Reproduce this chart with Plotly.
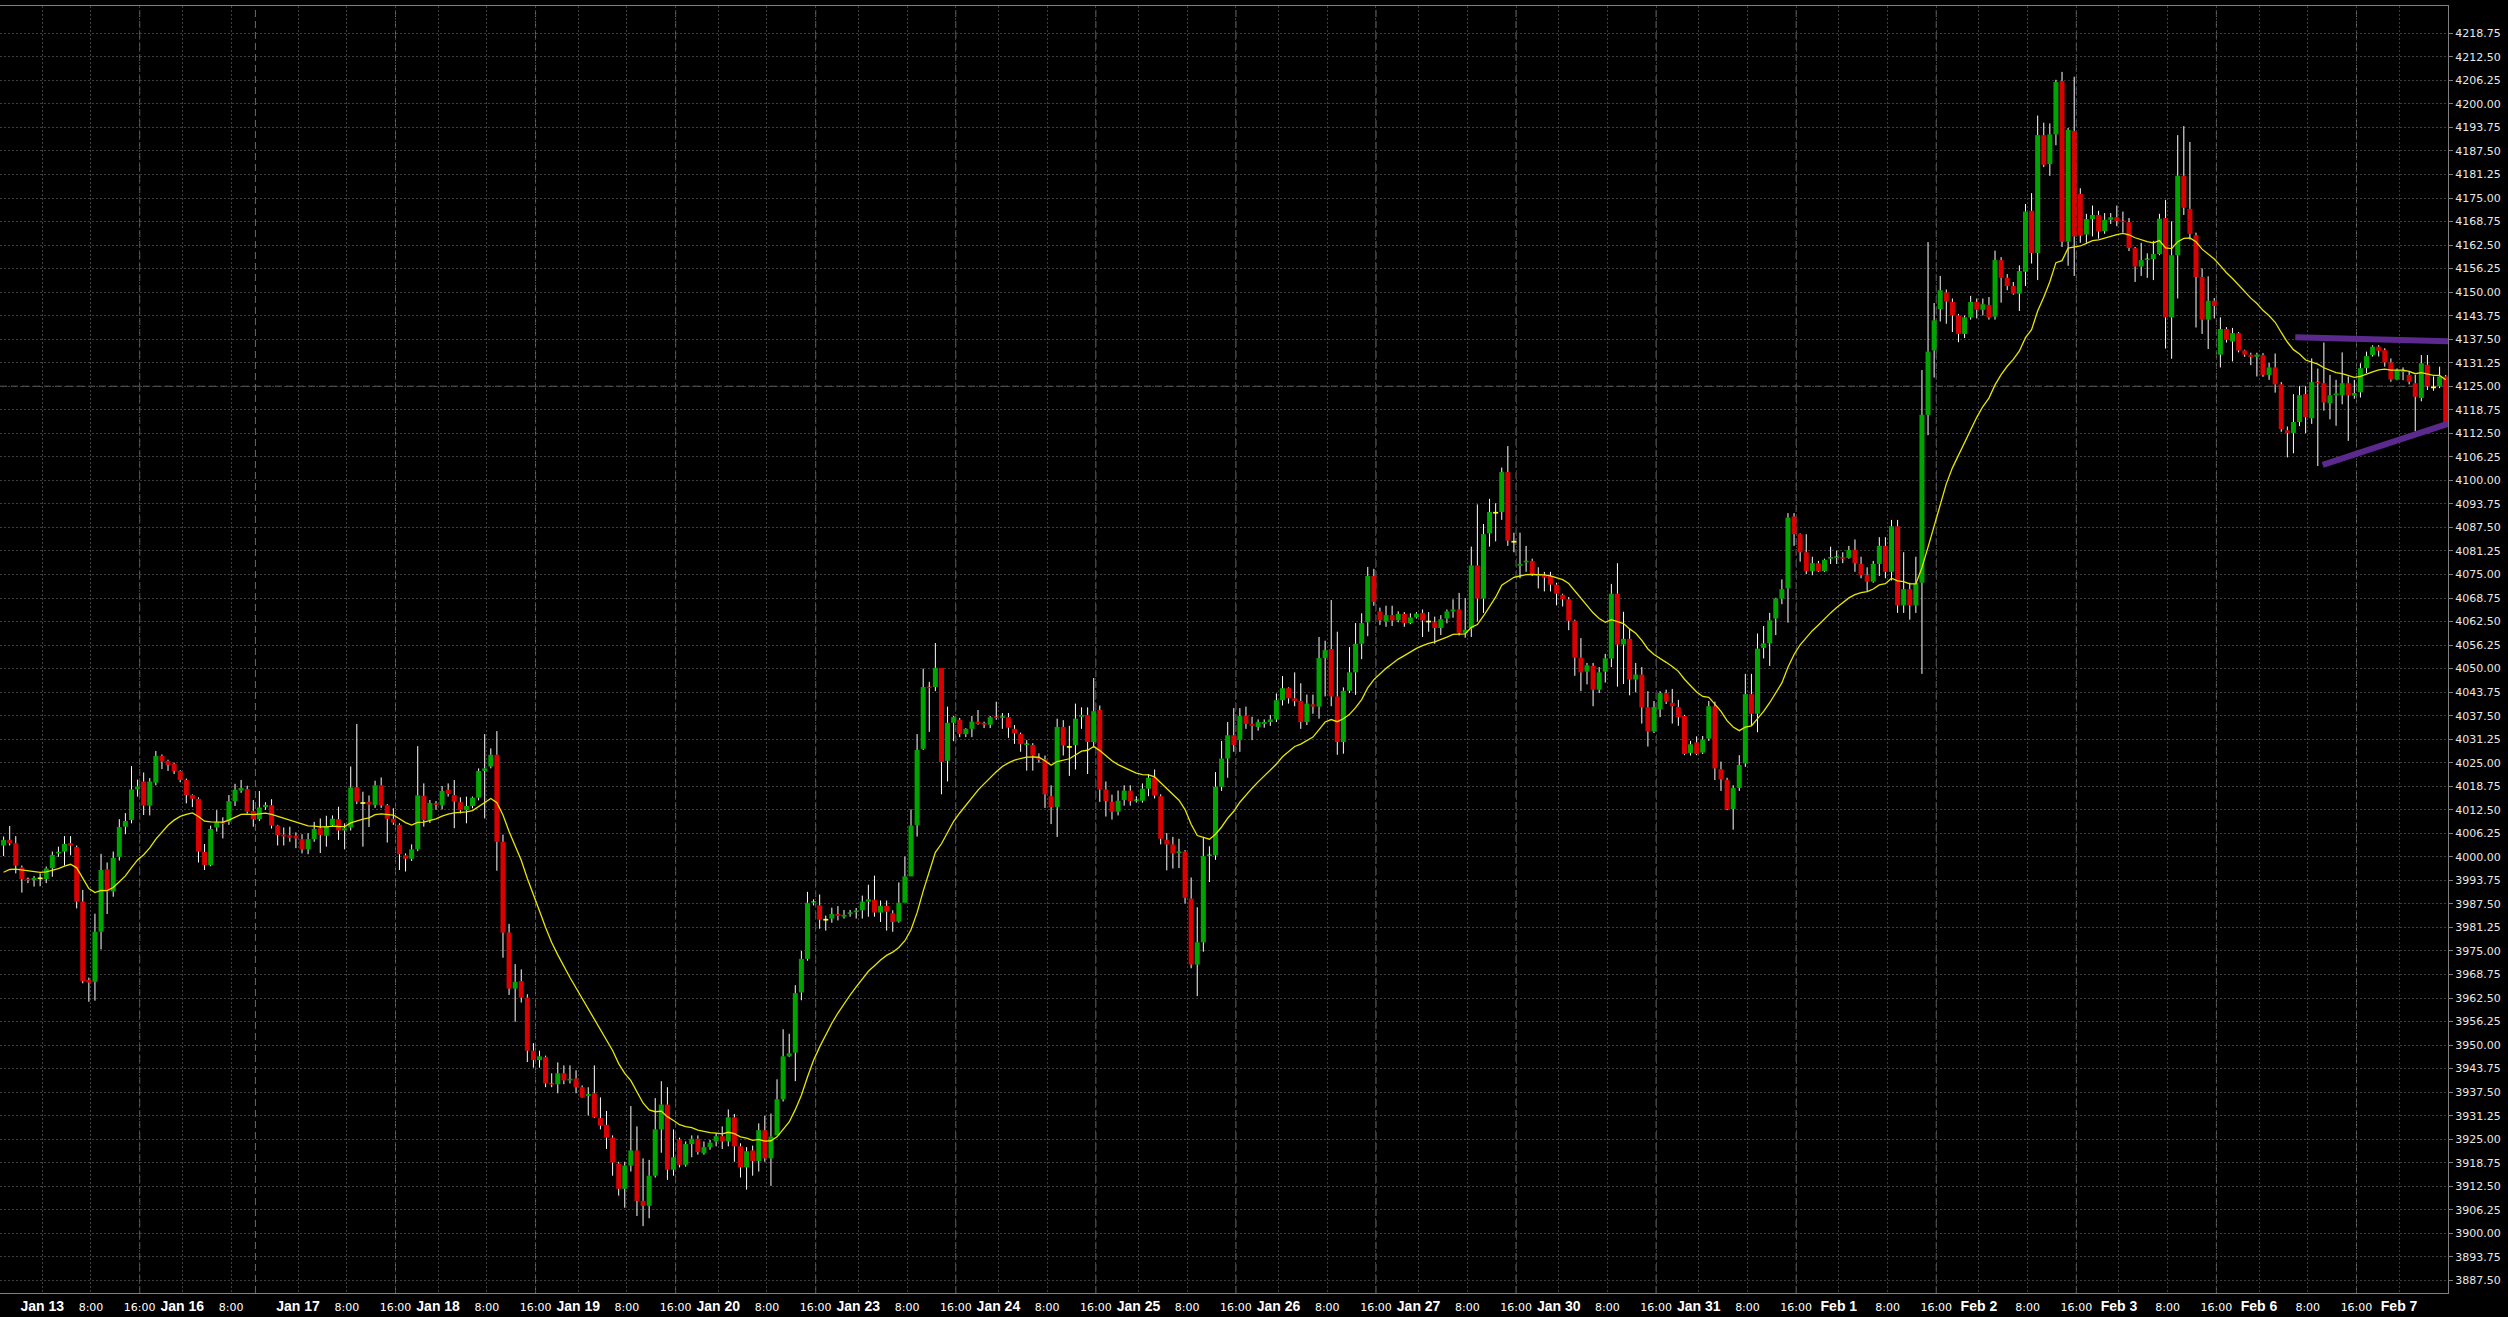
import numpy as np
import plotly.graph_objects as go

# ---------------- data (hourly bars) ----------------
opens = [
4003.0, 4004.5, 4003.6, 3997.2, 3994.1, 3993.8, 3994.3, 3994.1, 3997.0, 4000.9,
4001.4, 4003.6, 4002.6, 3988.1, 3967.3, 3966.8, 3980.1, 3996.7, 3990.8, 4000.0,
4008.0, 4009.8, 4017.9, 4020.0, 4013.6, 4019.7, 4026.8, 4025.5, 4024.7, 4022.8,
4020.4, 4016.4, 4015.4, 4001.3, 3997.8, 4007.8, 4009.0, 4009.3, 4014.8, 4017.6,
4018.0, 4012.2, 4010.0, 4013.2, 4013.7, 4008.3, 4005.9, 4005.7, 4005.6, 4004.7,
4002.0, 4004.7, 4007.6, 4005.6, 4008.4, 4010.0, 4007.0, 4007.8, 4018.5, 4014.3,
4014.6, 4013.8, 4019.0, 4013.7, 4010.1, 4008.5, 4000.4, 3999.5, 4002.0, 4016.2,
4009.8, 4014.2, 4013.7, 4017.8, 4016.4, 4014.5, 4012.4, 4013.5, 4015.7, 4022.8,
4024.0, 4027.1, 4004.0, 3979.9, 3965.0, 3967.0, 3962.6, 3948.5, 3946.0, 3946.8,
3939.8, 3939.6, 3942.5, 3940.6, 3941.1, 3938.8, 3936.5, 3937.2, 3930.6, 3928.8,
3925.4, 3918.5, 3911.8, 3918.0, 3922.0, 3908.6, 3907.3, 3915.3, 3927.6, 3934.2,
3916.9, 3924.9, 3918.2, 3923.7, 3925.1, 3921.3, 3922.9, 3924.4, 3925.8, 3924.4,
3930.8, 3923.1, 3917.5, 3922.0, 3919.2, 3927.4, 3919.9, 3926.0, 3935.6, 3947.0,
3948.0, 3964.0, 3972.9, 3987.8, 3987.1, 3983.3, 3983.6, 3984.8, 3984.1, 3984.8,
3985.3, 3985.8, 3988.1, 3988.6, 3985.2, 3987.0, 3985.0, 3982.8, 3987.8, 3994.8,
4008.4, 4028.7, 4045.1, 4045.1, 4050.2, 4025.5, 4035.6, 4036.4, 4032.6, 4034.0,
4035.9, 4035.5, 4035.1, 4037.2, 4036.9, 4037.1, 4034.0, 4032.6, 4029.7, 4029.7,
4026.2, 4025.9, 4016.1, 4013.2, 4034.5, 4029.2, 4029.7, 4037.2, 4037.7, 4030.5,
4039.0, 4017.9, 4014.6, 4012.0, 4015.1, 4017.6, 4014.8, 4014.9, 4018.1, 4021.0,
4016.1, 4004.5, 4003.3, 4001.0, 4001.4, 3988.9, 3971.4, 3977.3, 4000.2, 4000.4,
4018.6, 4026.1, 4032.3, 4031.0, 4037.5, 4035.3, 4034.5, 4035.3, 4035.8, 4036.5,
4041.6, 4044.8, 4042.1, 4041.4, 4035.8, 4040.5, 4039.9, 4052.8, 4055.2, 4042.6,
4030.5, 4044.1, 4049.0, 4056.6, 4062.3, 4074.6, 4065.2, 4062.5, 4064.2, 4062.8,
4064.5, 4062.1, 4063.6, 4064.8, 4062.5, 4062.3, 4060.8, 4063.3, 4065.2, 4065.7,
4059.5, 4060.7, 4077.4, 4068.6, 4085.9, 4091.4, 4091.6, 4102.2, 4083.7, 4077.3,
4078.2, 4078.6, 4075.0, 4074.8, 4074.6, 4072.3, 4069.6, 4068.4, 4062.7, 4052.9,
4049.2, 4050.7, 4044.4, 4049.2, 4052.7, 4069.9, 4056.4, 4057.9, 4047.1, 4048.4,
4039.7, 4033.3, 4039.2, 4043.5, 4040.9, 4039.8, 4037.4, 4027.6, 4030.4, 4027.7,
4031.4, 4040.0, 4023.3, 4020.4, 4012.7, 4018.3, 4024.8, 4043.2, 4038.0, 4055.5,
4056.7, 4063.3, 4068.6, 4071.3, 4090.4, 4085.7, 4080.9, 4075.9, 4078.0, 4075.9,
4079.2, 4079.4, 4079.6, 4079.4, 4081.5, 4077.8, 4074.8, 4073.1, 4077.8, 4082.6,
4075.7, 4087.8, 4066.8, 4071.1, 4066.8, 4072.8, 4117.4, 4134.5, 4145.5, 4149.9,
4147.4, 4143.8, 4138.9, 4143.3, 4147.4, 4145.3, 4146.6, 4143.5, 4158.5, 4153.8,
4151.6, 4149.6, 4155.4, 4171.6, 4160.4, 4191.7, 4184.0, 4191.9, 4206.1, 4163.4,
4192.8, 4176.1, 4165.3, 4169.4, 4170.5, 4166.2, 4169.2, 4169.9, 4168.9, 4168.6,
4161.7, 4156.8, 4158.5, 4158.8, 4160.1, 4169.7, 4143.3, 4159.8, 4180.9, 4172.1,
4165.1, 4154.0, 4142.7, 4147.7, 4133.4, 4140.2, 4136.9, 4139.1, 4134.5, 4133.4,
4132.8, 4133.3, 4128.0, 4130.0, 4125.5, 4113.3, 4112.6, 4115.5, 4122.9, 4116.5,
4126.1, 4125.8, 4120.5, 4122.6, 4122.6, 4125.8, 4122.5, 4123.4, 4129.8, 4133.3,
4135.5, 4134.6, 4131.3, 4126.8, 4128.8, 4128.0, 4125.8, 4121.9, 4130.7, 4124.7,
4125.0, 4127.6,
]

highs = [
4005.4, 4008.2, 4005.5, 3997.7, 3994.5, 3994.9, 3995.6, 3997.4, 4001.4, 4002.7,
4005.5, 4005.5, 4003.0, 3991.2, 3967.9, 3984.9, 4000.8, 3998.5, 4001.4, 4010.0,
4011.6, 4024.1, 4020.5, 4022.4, 4020.9, 4028.1, 4027.2, 4025.8, 4025.0, 4023.0,
4020.8, 4016.6, 4015.8, 4003.4, 4008.3, 4012.4, 4010.5, 4016.4, 4019.4, 4020.4,
4018.9, 4015.1, 4017.5, 4014.5, 4015.3, 4008.5, 4007.8, 4008.0, 4006.5, 4006.0,
4006.3, 4009.3, 4010.2, 4010.9, 4011.0, 4013.3, 4008.9, 4024.0, 4035.3, 4017.3,
4016.3, 4020.2, 4021.1, 4014.0, 4012.9, 4008.9, 4000.9, 4003.3, 4029.4, 4019.5,
4015.1, 4014.8, 4018.8, 4019.5, 4020.4, 4015.8, 4016.0, 4016.0, 4023.5, 4032.6,
4028.8, 4033.4, 4005.9, 3982.2, 3971.5, 3970.1, 3963.5, 3950.5, 3948.5, 3947.2,
3942.5, 3945.4, 3944.6, 3944.6, 3943.3, 3939.3, 3938.8, 3944.6, 3936.1, 3932.5,
3926.0, 3919.0, 3919.0, 3933.8, 3928.4, 3919.9, 3919.5, 3935.9, 3940.4, 3938.8,
3927.6, 3925.4, 3924.4, 3926.0, 3926.0, 3924.4, 3924.8, 3926.6, 3928.4, 3932.9,
3931.7, 3923.9, 3922.9, 3923.3, 3929.2, 3931.2, 3931.8, 3940.9, 3954.2, 3953.0,
3965.9, 3975.0, 3990.7, 3988.7, 3990.0, 3984.4, 3986.5, 3986.9, 3985.9, 3985.9,
3986.4, 3989.7, 3992.6, 3995.0, 3988.4, 3988.4, 3985.8, 3993.2, 4000.1, 4012.6,
4032.6, 4050.0, 4046.5, 4056.8, 4050.2, 4039.9, 4037.4, 4036.9, 4034.2, 4037.4,
4039.0, 4035.9, 4037.4, 4041.2, 4038.2, 4038.2, 4035.0, 4033.0, 4031.0, 4030.2,
4027.5, 4026.9, 4019.0, 4036.7, 4036.3, 4034.8, 4040.7, 4039.7, 4039.7, 4047.5,
4040.2, 4020.0, 4016.5, 4017.6, 4019.0, 4019.0, 4016.1, 4019.5, 4022.0, 4023.2,
4016.6, 4006.3, 4005.3, 4004.8, 4001.8, 3994.5, 3986.6, 4005.3, 4002.8, 4022.5,
4030.8, 4035.8, 4039.5, 4039.5, 4039.9, 4037.2, 4036.5, 4036.5, 4037.7, 4043.4,
4048.0, 4045.0, 4049.0, 4046.1, 4043.1, 4043.1, 4058.4, 4057.4, 4068.2, 4059.8,
4045.0, 4055.7, 4062.1, 4064.7, 4077.0, 4076.5, 4066.2, 4066.7, 4066.7, 4065.2,
4065.0, 4064.7, 4065.0, 4065.7, 4065.0, 4063.8, 4064.2, 4065.7, 4068.4, 4070.1,
4068.7, 4082.4, 4093.6, 4088.4, 4095.1, 4093.9, 4103.4, 4109.1, 4086.1, 4086.1,
4082.6, 4079.2, 4076.9, 4075.7, 4075.7, 4072.8, 4069.9, 4069.0, 4063.0, 4058.1,
4051.5, 4051.5, 4050.4, 4053.9, 4072.5, 4078.0, 4065.1, 4060.5, 4051.5, 4050.4,
4044.0, 4041.4, 4044.0, 4044.4, 4044.6, 4041.7, 4037.7, 4030.8, 4032.0, 4032.1,
4041.4, 4041.2, 4025.3, 4021.0, 4019.0, 4027.0, 4048.6, 4048.6, 4059.3, 4061.3,
4064.8, 4068.8, 4073.7, 4091.3, 4091.3, 4085.9, 4085.7, 4079.7, 4078.6, 4079.2,
4082.4, 4081.3, 4080.9, 4082.6, 4084.3, 4079.7, 4076.9, 4078.6, 4084.9, 4084.9,
4089.5, 4089.5, 4080.9, 4072.8, 4079.7, 4129.3, 4163.3, 4147.1, 4154.3, 4150.7,
4148.3, 4144.2, 4143.8, 4149.0, 4148.3, 4148.3, 4148.7, 4161.0, 4159.3, 4154.8,
4152.7, 4157.1, 4173.4, 4176.3, 4196.9, 4195.0, 4194.8, 4206.4, 4208.5, 4193.6,
4207.2, 4177.6, 4170.8, 4173.0, 4171.6, 4171.0, 4171.0, 4173.0, 4171.4, 4169.7,
4162.0, 4163.1, 4160.3, 4163.6, 4170.8, 4174.5, 4168.8, 4191.7, 4194.1, 4189.9,
4165.8, 4156.3, 4154.2, 4148.4, 4143.3, 4140.7, 4140.5, 4139.4, 4134.7, 4133.9,
4133.9, 4133.8, 4131.2, 4133.7, 4126.1, 4114.3, 4122.9, 4125.0, 4125.0, 4132.4,
4129.7, 4136.6, 4128.0, 4126.7, 4134.0, 4127.6, 4126.7, 4131.1, 4134.2, 4135.9,
4135.9, 4135.1, 4132.4, 4129.7, 4130.0, 4129.0, 4128.0, 4133.3, 4133.3, 4127.6,
4130.2, 4128.0,
]

lows = [
4000.2, 4003.0, 3995.6, 3990.5, 3993.0, 3992.1, 3992.2, 3993.0, 3994.7, 4000.0,
3997.7, 4000.4, 3986.3, 3966.4, 3961.5, 3961.8, 3975.4, 3984.8, 3989.4, 3999.0,
4006.0, 4008.9, 4016.0, 4011.1, 4011.0, 4019.0, 4023.3, 4022.8, 4022.0, 4019.8,
4014.2, 4013.2, 3998.5, 3996.5, 3997.5, 4006.7, 4004.9, 4008.5, 4013.5, 4017.0,
4011.5, 4008.0, 4009.5, 4012.5, 4007.5, 4003.0, 4003.0, 4004.0, 4002.3, 4000.9,
4000.7, 4004.0, 4001.0, 4002.7, 4008.0, 4004.5, 4002.0, 4007.0, 4014.0, 4002.7,
4007.9, 4013.0, 4013.0, 4003.8, 4008.5, 3996.5, 3996.1, 3998.9, 4001.5, 4008.0,
4009.0, 4012.5, 4012.6, 4016.0, 4007.6, 4011.5, 4008.9, 4012.9, 4015.0, 4010.2,
4023.5, 3996.3, 3973.2, 3963.3, 3956.2, 3961.3, 3945.5, 3944.0, 3944.0, 3938.8,
3938.8, 3937.2, 3939.6, 3939.8, 3937.2, 3936.0, 3931.3, 3930.6, 3927.6, 3922.4,
3915.3, 3910.0, 3906.8, 3916.4, 3904.6, 3901.9, 3904.0, 3914.8, 3921.4, 3914.2,
3915.3, 3917.5, 3917.7, 3920.2, 3920.9, 3920.9, 3922.2, 3923.1, 3922.4, 3923.1,
3919.0, 3914.8, 3911.6, 3915.3, 3916.4, 3919.0, 3912.6, 3926.0, 3935.0, 3946.8,
3940.4, 3961.9, 3972.4, 3987.1, 3980.9, 3980.4, 3982.5, 3983.1, 3983.6, 3984.1,
3983.6, 3983.6, 3984.1, 3984.1, 3982.7, 3980.4, 3980.1, 3982.5, 3987.8, 3994.8,
4005.4, 4028.4, 4033.2, 4044.0, 4016.6, 4020.0, 4030.7, 4031.8, 4031.8, 4031.8,
4035.1, 4034.2, 4034.2, 4036.4, 4034.0, 4031.6, 4030.0, 4027.9, 4022.9, 4022.9,
4025.0, 4013.0, 4008.7, 4005.3, 4026.9, 4021.5, 4023.2, 4034.0, 4022.0, 4029.0,
4014.6, 4010.7, 4009.9, 4011.0, 4013.6, 4013.6, 4014.4, 4014.4, 4016.1, 4015.5,
4003.3, 3996.4, 3996.9, 3997.0, 3987.6, 3970.4, 3963.0, 3974.8, 3993.3, 3999.2,
4017.5, 4021.0, 4027.9, 4027.9, 4034.0, 4031.0, 4033.5, 4034.3, 4034.8, 4035.8,
4040.2, 4040.7, 4040.0, 4034.0, 4035.0, 4038.0, 4036.7, 4042.6, 4040.0, 4027.1,
4027.4, 4043.5, 4043.0, 4052.5, 4058.6, 4066.7, 4061.6, 4061.1, 4061.3, 4062.3,
4061.1, 4061.8, 4063.3, 4058.4, 4059.8, 4056.6, 4058.9, 4062.0, 4063.5, 4058.8,
4058.2, 4058.4, 4062.5, 4064.8, 4082.4, 4083.8, 4089.5, 4082.6, 4080.9, 4074.0,
4075.7, 4074.6, 4071.3, 4070.5, 4070.5, 4066.8, 4066.5, 4060.2, 4048.1, 4044.0,
4045.8, 4040.0, 4043.5, 4046.3, 4050.4, 4045.2, 4045.9, 4042.9, 4043.7, 4035.4,
4029.3, 4032.9, 4037.1, 4040.6, 4035.4, 4034.8, 4027.0, 4026.9, 4027.0, 4027.3,
4030.8, 4020.4, 4017.5, 4012.4, 4007.2, 4017.5, 4023.9, 4034.8, 4033.1, 4052.7,
4050.7, 4058.9, 4067.1, 4062.2, 4082.6, 4078.4, 4075.1, 4074.8, 4075.7, 4075.7,
4077.8, 4077.8, 4078.0, 4079.2, 4075.7, 4074.0, 4070.5, 4072.8, 4074.6, 4074.0,
4073.4, 4064.8, 4064.8, 4063.0, 4064.8, 4048.6, 4112.0, 4127.3, 4142.2, 4141.6,
4139.4, 4136.7, 4137.8, 4142.7, 4143.0, 4143.8, 4142.7, 4142.7, 4147.2, 4150.5,
4149.3, 4145.0, 4151.6, 4157.6, 4153.2, 4183.2, 4180.9, 4189.0, 4162.0, 4157.0,
4154.3, 4163.1, 4163.1, 4164.8, 4164.2, 4165.5, 4168.1, 4167.5, 4165.8, 4160.9,
4152.7, 4154.3, 4153.8, 4153.2, 4159.8, 4135.0, 4132.3, 4148.3, 4170.5, 4164.0,
4140.6, 4138.9, 4134.9, 4143.0, 4130.0, 4136.6, 4131.6, 4134.0, 4132.8, 4130.6,
4127.6, 4127.5, 4126.7, 4123.3, 4112.9, 4106.1, 4107.2, 4114.4, 4112.5, 4115.0,
4103.8, 4118.5, 4116.2, 4114.5, 4120.2, 4110.5, 4121.7, 4122.0, 4128.5, 4132.9,
4132.9, 4130.2, 4126.2, 4126.6, 4126.6, 4125.5, 4113.0, 4121.0, 4124.0, 4123.8,
4124.5, 4115.3,
]

closes = [
4004.5, 4003.6, 3997.7, 3994.1, 3993.8, 3994.4, 3994.3, 3996.9, 4000.5, 4001.3,
4003.4, 4003.0, 3988.1, 3967.0, 3966.6, 3980.1, 3996.5, 3990.8, 3999.7, 4007.9,
4009.5, 4017.9, 4018.7, 4013.6, 4020.0, 4026.8, 4025.3, 4024.4, 4022.8, 4020.4,
4016.4, 4015.4, 4001.4, 3997.8, 4007.4, 4009.2, 4008.8, 4014.8, 4017.8, 4018.3,
4012.0, 4010.0, 4013.1, 4013.8, 4008.3, 4005.8, 4005.4, 4005.1, 4004.9, 4002.0,
4004.7, 4007.4, 4005.8, 4008.2, 4010.1, 4007.0, 4007.6, 4018.4, 4014.7, 4014.3,
4013.9, 4019.0, 4013.7, 4010.1, 4009.1, 4000.7, 3999.5, 4002.0, 4016.3, 4009.8,
4014.3, 4013.8, 4017.5, 4016.7, 4014.7, 4012.4, 4013.5, 4015.7, 4022.8, 4023.5,
4027.1, 4004.0, 3979.9, 3965.0, 3966.8, 3962.6, 3948.5, 3946.0, 3947.0, 3939.8,
3939.5, 3942.5, 3940.6, 3941.0, 3938.8, 3936.1, 3937.0, 3930.8, 3928.6, 3925.4,
3918.8, 3911.8, 3918.0, 3922.0, 3908.6, 3907.3, 3915.3, 3927.6, 3934.2, 3916.9,
3920.2, 3918.2, 3923.7, 3925.1, 3921.6, 3922.9, 3924.1, 3925.8, 3924.4, 3930.8,
3923.1, 3917.5, 3921.8, 3919.2, 3927.4, 3919.9, 3925.7, 3935.6, 3947.0, 3947.8,
3963.8, 3972.9, 3987.8, 3988.1, 3983.3, 3983.3, 3984.8, 3984.3, 3984.6, 3985.2,
3985.7, 3988.1, 3988.7, 3985.2, 3987.0, 3985.4, 3982.7, 3987.8, 3994.8, 4008.3,
4028.4, 4045.1, 4044.8, 4050.2, 4025.2, 4035.6, 4037.1, 4032.6, 4034.0, 4035.9,
4035.3, 4035.1, 4037.1, 4036.9, 4037.3, 4034.3, 4032.8, 4029.9, 4030.0, 4026.9,
4025.8, 4016.6, 4013.2, 4034.5, 4029.6, 4029.2, 4036.7, 4037.7, 4030.5, 4038.7,
4017.9, 4014.8, 4012.0, 4014.9, 4017.6, 4014.8, 4015.0, 4018.1, 4021.0, 4016.3,
4004.8, 4003.3, 4000.9, 4001.4, 3989.1, 3971.4, 3977.3, 4000.2, 4000.4, 4018.6,
4026.1, 4032.3, 4029.7, 4037.4, 4035.3, 4034.8, 4035.8, 4035.8, 4036.5, 4041.6,
4044.8, 4042.1, 4041.4, 4035.8, 4040.7, 4039.9, 4052.8, 4054.9, 4042.6, 4030.5,
4044.1, 4049.0, 4056.6, 4062.1, 4074.6, 4067.7, 4062.8, 4064.2, 4062.8, 4064.5,
4062.1, 4063.6, 4064.6, 4062.8, 4062.5, 4060.8, 4063.1, 4065.2, 4065.7, 4059.5,
4060.3, 4077.4, 4068.6, 4085.7, 4091.6, 4091.4, 4102.2, 4084.0, 4083.7, 4077.8,
4078.6, 4075.1, 4074.6, 4074.2, 4072.3, 4069.9, 4068.4, 4062.7, 4052.9, 4049.0,
4050.9, 4044.4, 4049.0, 4052.7, 4069.9, 4056.4, 4057.9, 4047.1, 4048.4, 4039.7,
4033.3, 4039.8, 4043.5, 4041.2, 4040.0, 4037.1, 4027.3, 4029.9, 4027.3, 4031.1,
4040.0, 4023.5, 4020.6, 4012.7, 4018.3, 4024.4, 4043.2, 4038.0, 4055.3, 4056.7,
4062.8, 4068.6, 4071.1, 4090.1, 4085.7, 4080.9, 4075.9, 4078.0, 4075.9, 4078.9,
4079.6, 4079.7, 4079.2, 4081.5, 4078.0, 4074.8, 4073.1, 4077.8, 4082.6, 4075.7,
4087.8, 4066.8, 4071.1, 4066.8, 4072.8, 4117.4, 4134.2, 4142.5, 4150.5, 4147.5,
4143.8, 4138.9, 4143.3, 4147.4, 4145.3, 4146.8, 4143.3, 4158.5, 4153.8, 4151.6,
4149.6, 4155.6, 4171.4, 4160.4, 4191.7, 4183.8, 4191.9, 4205.8, 4163.4, 4193.1,
4164.8, 4165.0, 4169.4, 4170.5, 4166.1, 4169.2, 4169.9, 4168.9, 4168.6, 4161.7,
4156.8, 4158.5, 4158.8, 4160.1, 4169.5, 4143.3, 4159.8, 4180.9, 4172.4, 4165.5,
4154.0, 4142.7, 4147.7, 4146.3, 4140.2, 4137.3, 4139.1, 4134.5, 4133.4, 4132.8,
4133.4, 4128.0, 4130.0, 4125.5, 4113.6, 4112.6, 4115.5, 4122.6, 4116.8, 4126.1,
4125.8, 4120.7, 4122.6, 4123.1, 4125.8, 4122.6, 4123.2, 4129.8, 4133.0, 4135.5,
4134.4, 4131.3, 4126.8, 4129.3, 4129.1, 4126.2, 4122.2, 4131.1, 4125.0, 4124.7,
4127.6, 4115.5,
]

# moving average settings (EMA of closes), first value
ma_period = 20
ma_seed = 3995.0

# x-axis ticks: bar index of each label and label text
tick_bars = [6, 14, 22, 29, 37, 48, 56, 64, 71, 79, 87, 94, 102, 110, 117, 125, 133,
             140, 148, 156, 163, 171, 179, 186, 194, 202, 209, 217, 225, 232, 240, 248,
             255, 263, 271, 278, 286, 294, 301, 309, 317, 324, 332, 340, 347, 355, 363,
             370, 378, 386, 393]
tick_labels = ["Jan 13", "8:00", "16:00", "Jan 16", "8:00", "Jan 17", "8:00", "16:00",
               "Jan 18", "8:00", "16:00", "Jan 19", "8:00", "16:00", "Jan 20", "8:00", "16:00",
               "Jan 23", "8:00", "16:00", "Jan 24", "8:00", "16:00", "Jan 25", "8:00", "16:00",
               "Jan 26", "8:00", "16:00", "Jan 27", "8:00", "16:00", "Jan 30", "8:00", "16:00",
               "Jan 31", "8:00", "16:00", "Feb 1", "8:00", "16:00", "Feb 2", "8:00", "16:00",
               "Feb 3", "8:00", "16:00", "Feb 6", "8:00", "16:00", "Feb 7"]
# bars carrying the stronger (session) vertical separators
session_bars = [22, 41, 64, 87, 110, 133, 156, 179, 202, 225, 248, 271, 294, 317, 340, 363, 386]

# horizontal price line and the two drawn trend lines (bar index, price)
price_line = 4125.0
upper_trend_bars = [376.3, 402.0]
upper_trend_prices = [4138.0, 4136.9]
lower_trend_bars = [380.8, 402.8]
lower_trend_prices = [4104.1, 4115.8]

# y tick sequence
y_tick_first, y_tick_last, y_tick_step = 3887.5, 4218.75, 6.25

# ---------------- figure ----------------
o = np.array(opens); h = np.array(highs); l = np.array(lows); c = np.array(closes)
n = min(len(o), len(h), len(l), len(c))
o, h, l, c = o[:n], h[:n], l[:n], c[:n]
x = np.arange(n)

body_top = np.maximum(o, c)
body_bot = np.minimum(o, c)

GRID_OFF = 0.35   # grid/label offset relative to candle centres
BODY_W = 0.82
MIN_BODY = 0.45

up = c > o + 0.05
dn = c < o - 0.05
dj = ~(up | dn)

fig = go.Figure()

# wicks (drawn above and below each body so they don't cross the body)
wx, wy = [], []
for i in range(n):
    hi = max(h[i], body_top[i]); lo = min(l[i], body_bot[i])
    if hi > body_top[i]:
        wx += [x[i], x[i], None]; wy += [body_top[i], hi, None]
    if lo < body_bot[i]:
        wx += [x[i], x[i], None]; wy += [lo, body_bot[i], None]
fig.add_trace(go.Scatter(x=wx, y=wy, mode="lines", line=dict(color="#ffffff", width=1),
                         hoverinfo="skip", showlegend=False))

def add_bodies(mask, color, doji=False):
    xs = x[mask]
    if doji:
        base = c[mask] - MIN_BODY / 2
        hgt = np.full(mask.sum(), MIN_BODY)
    else:
        base = body_bot[mask]
        hgt = np.maximum(body_top[mask] - body_bot[mask], MIN_BODY)
    fig.add_trace(go.Bar(x=xs, y=hgt, base=base, width=BODY_W,
                         marker=dict(color=color, line=dict(width=0)),
                         hoverinfo="skip", showlegend=False))

add_bodies(up, "#00a400")
add_bodies(dn, "#d80000")
add_bodies(dj, "#ffff00", doji=True)

# moving average
alpha = 2.0 / (ma_period + 1)
ema = []
prev = ma_seed
for v in c:
    prev = prev + alpha * (v - prev)
    ema.append(prev)
fig.add_trace(go.Scatter(x=x, y=ema, mode="lines", line=dict(color="#e6e600", width=1.3),
                         hoverinfo="skip", showlegend=False))

# trend lines
for bx, py in ((upper_trend_bars, upper_trend_prices), (lower_trend_bars, lower_trend_prices)):
    fig.add_trace(go.Scatter(x=bx, y=py, mode="lines",
                             line=dict(color="#5c2a8e", width=6),
                             hoverinfo="skip", showlegend=False))

# session separators and price line
for b in session_bars:
    fig.add_shape(type="line", xref="x", yref="paper", x0=b + GRID_OFF, x1=b + GRID_OFF,
                  y0=0, y1=1, layer="below",
                  line=dict(color="#6a6a6a", width=1, dash="7px,4px"))
fig.add_shape(type="line", xref="paper", yref="y", x0=0, x1=1, y0=price_line, y1=price_line,
              layer="below", line=dict(color="#6a6a6a", width=1, dash="7px,4px"))

def fmt_tick(t):
    if ":" in t:
        return '<span style="font-size:11px;font-family:DejaVu Sans">' + t + '</span>'
    return "<b>" + t + "</b>"

y_ticks = np.arange(y_tick_first, y_tick_last + 1e-6, y_tick_step)

W, H = 2508, 1317
PLOT_L, PLOT_R, PLOT_T, PLOT_B = 0, 2448, 6, 1293
bar_px = 6.09
x0_px = 3.6
x_lo = (PLOT_L - x0_px) / bar_px
x_hi = (PLOT_R - x0_px) / bar_px
px_per_pt = 3.7647
y_at_4218 = 33.3
y_hi = 4218.75 + (y_at_4218 - PLOT_T) / px_per_pt
y_lo = 4218.75 - (PLOT_B - y_at_4218) / px_per_pt

fig.update_layout(
    width=W, height=H,
    margin=dict(l=PLOT_L, r=W - PLOT_R, t=PLOT_T, b=H - PLOT_B, autoexpand=False),
    paper_bgcolor="#000000", plot_bgcolor="#000000",
    barmode="overlay", showlegend=False, hovermode=False,
    xaxis=dict(range=[x_lo, x_hi], tickmode="array",
               tickvals=[b + GRID_OFF for b in tick_bars],
               ticktext=[fmt_tick(t) for t in tick_labels],
               showgrid=True, gridcolor="#3e3e3e", gridwidth=1, griddash="2px,2px",
               zeroline=False, showline=True, linecolor="#808080", linewidth=1, mirror=True,
               ticks="", tickfont=dict(family="Liberation Sans, Arial, sans-serif", size=14,
                                       color="#ffffff"),
               fixedrange=True),
    yaxis=dict(range=[y_lo, y_hi], side="right", tickmode="array",
               tickvals=list(y_ticks), ticktext=[f"{v:.2f}" for v in y_ticks],
               showgrid=True, gridcolor="#3e3e3e", gridwidth=1, griddash="2px,2px",
               zeroline=False, showline=True, linecolor="#808080", linewidth=1,
               ticks="outside", ticklen=4, tickcolor="#808080",
               tickfont=dict(family="DejaVu Sans", size=11, color="#e8e8e8"),
               fixedrange=True),
)

fig.write_html("out.html",
               config={"displayModeBar": False, "staticPlot": True},
               post_script="document.body.style.margin='0';document.body.style.overflow='hidden';")
